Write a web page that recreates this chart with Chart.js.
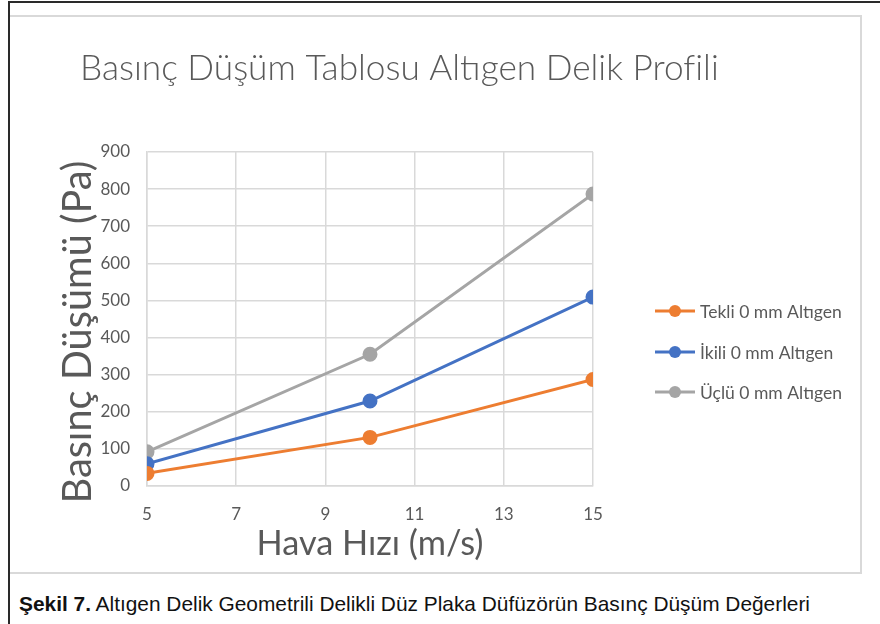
<!DOCTYPE html>
<html lang="tr">
<head>
<meta charset="utf-8">
<title>Basınç Düşüm Tablosu Altıgen Delik Profili</title>
<script src="https://cdn.jsdelivr.net/npm/chart.js@4.4.1/dist/chart.umd.min.js"></script>
<style>
  html, body { margin: 0; padding: 0; background: #fff; }
  body { width: 880px; height: 624px; position: relative; overflow: hidden; }
  .frame { position: absolute; left: 8px; top: 1px; right: 0; bottom: 0;
           border-top: 2px solid #2a2a2a; border-left: 2px solid #2a2a2a; }
  .box { position: absolute; left: 10px; top: 15px; width: 850px; height: 555px;
         border: 2px solid #d9d9d9; border-left: none; }
  #wrap { position: absolute; left: 12px; top: 17px; width: 849px; height: 554px; }
  .caption { position: absolute; left: 19px; top: 592px; white-space: nowrap;
             font-family: "Liberation Sans", Arial, sans-serif; font-size: 21px;
             color: #111; transform-origin: 0 0; }
  .caption b { font-weight: bold; }
</style>
</head>
<body>
<div class="frame"></div>
<div class="box"></div>
<div id="wrap"><canvas id="chart" width="849" height="554"></canvas></div>
<div class="caption" id="caption"><b>Şekil 7.</b> Altıgen Delik Geometrili Delikli Düz Plaka Düfüzörün Basınç Düşüm Değerleri</div>
<script>
// Hava hızı (m/s) ve basınç düşümü (Pa) ölçümleri
const hizlar = [5, 10, 15];
const tekli = [34, 131, 287];
const ikili = [60, 229, 509];
const uclu = [92, 355, 787];

const seriAdlari = ['Tekli 0 mm Altıgen', 'İkili 0 mm Altıgen', 'Üçlü 0 mm Altıgen'];
const seriRenkleri = ['#ED7D31', '#4472C4', '#A5A5A5'];

const baslik = 'Basınç Düşüm Tablosu Altıgen Delik Profili';
const yBaslik = 'Basınç Düşümü (Pa)';
const xBaslik = 'Hava Hızı (m/s)';

const yEksen = { min: 0, max: 900, step: 100 };
const xEksen = { min: 5, max: 15, step: 2 };

const FONT = 'Lato, "Open Sans", sans-serif';
const GRI_YAZI = '#595959';
const IZGARA = '#d9d9d9';

// font size that makes a string span a given width
const olcu = document.createElement('canvas').getContext('2d');
function sigdir(text, width, ref, weight) {
  olcu.font = (weight || 400) + ' ' + ref + 'px ' + FONT;
  return ref * width / olcu.measureText(text).width;
}
const baslikBoyut = sigdir(baslik, 638, 34, 300);
const yBaslikBoyut = sigdir(yBaslik, 343, 34);
const xBaslikBoyut = sigdir(xBaslik, 227, 34);
const lejantBoyut = sigdir(seriAdlari[0], 142, 16);

const veriler = [tekli, ikili, uclu].map((seri, i) => ({
  label: seriAdlari[i],
  data: hizlar.map((h, j) => ({ x: h, y: seri[j] })),
  borderColor: seriRenkleri[i],
  backgroundColor: seriRenkleri[i],
  pointBackgroundColor: seriRenkleri[i],
  pointBorderColor: seriRenkleri[i],
  borderWidth: 3,
  pointRadius: 6,
  pointHoverRadius: 6,
  tension: 0
}));

// chart title, vertical axis title and the legend on the right
const yazilar = {
  id: 'yazilar',
  afterDraw(chart) {
    const ctx = chart.ctx;
    ctx.save();
    ctx.fillStyle = GRI_YAZI;
    ctx.textBaseline = 'alphabetic';

    ctx.font = '300 ' + baslikBoyut + 'px ' + FONT;
    ctx.textAlign = 'left';
    ctx.fillText(baslik, 68, 63);

    ctx.save();
    ctx.translate(79, 315);
    ctx.rotate(-Math.PI / 2);
    ctx.font = yBaslikBoyut + 'px ' + FONT;
    ctx.textAlign = 'center';
    ctx.fillText(yBaslik, 0, 0);
    ctx.restore();

    const satirlar = [294, 335, 375];
    chart.data.datasets.forEach((ds, i) => {
      const y = satirlar[i];
      ctx.strokeStyle = ds.borderColor;
      ctx.lineWidth = 3;
      ctx.beginPath();
      ctx.moveTo(643, y);
      ctx.lineTo(683, y);
      ctx.stroke();
      ctx.fillStyle = ds.borderColor;
      ctx.beginPath();
      ctx.arc(663, y, 6, 0, Math.PI * 2);
      ctx.fill();
      ctx.fillStyle = GRI_YAZI;
      ctx.font = lejantBoyut + 'px ' + FONT;
      ctx.textAlign = 'left';
      ctx.textBaseline = 'middle';
      ctx.fillText(ds.label, 688, y + 1);
    });
    ctx.restore();
  }
};

new Chart(document.getElementById('chart'), {
  type: 'line',
  data: { datasets: veriler },
  plugins: [yazilar],
  options: {
    responsive: false,
    animation: false,
    events: [],
    layout: { padding: { left: 0, right: 268, top: 135, bottom: 0 } },
    plugins: {
      legend: { display: false },
      title: { display: false },
      tooltip: { enabled: false }
    },
    scales: {
      x: {
        type: 'linear',
        min: xEksen.min,
        max: xEksen.max,
        afterFit(scale) { scale.height = 85; },
        ticks: {
          stepSize: xEksen.step,
          padding: 18,
          color: GRI_YAZI,
          font: { family: FONT, size: 17 }
        },
        grid: { color: IZGARA, lineWidth: 1.5, drawTicks: false },
        border: { color: IZGARA, width: 1.5 },
        title: {
          display: true,
          text: xBaslik,
          color: GRI_YAZI,
          font: { family: FONT, size: xBaslikBoyut },
          padding: { top: 0, bottom: 6 }
        }
      },
      y: {
        min: yEksen.min,
        max: yEksen.max,
        afterFit(scale) { scale.width = 135; },
        ticks: {
          stepSize: yEksen.step,
          padding: 17,
          color: GRI_YAZI,
          font: { family: FONT, size: 17 }
        },
        grid: { color: IZGARA, lineWidth: 1.5, drawTicks: false },
        border: { color: IZGARA, width: 1.5 }
      }
    }
  }
});

// caption width follows the printed line
const cap = document.getElementById('caption');
cap.style.transform = 'scaleX(' + (791 / cap.getBoundingClientRect().width) + ')';
</script>
</body>
</html>
